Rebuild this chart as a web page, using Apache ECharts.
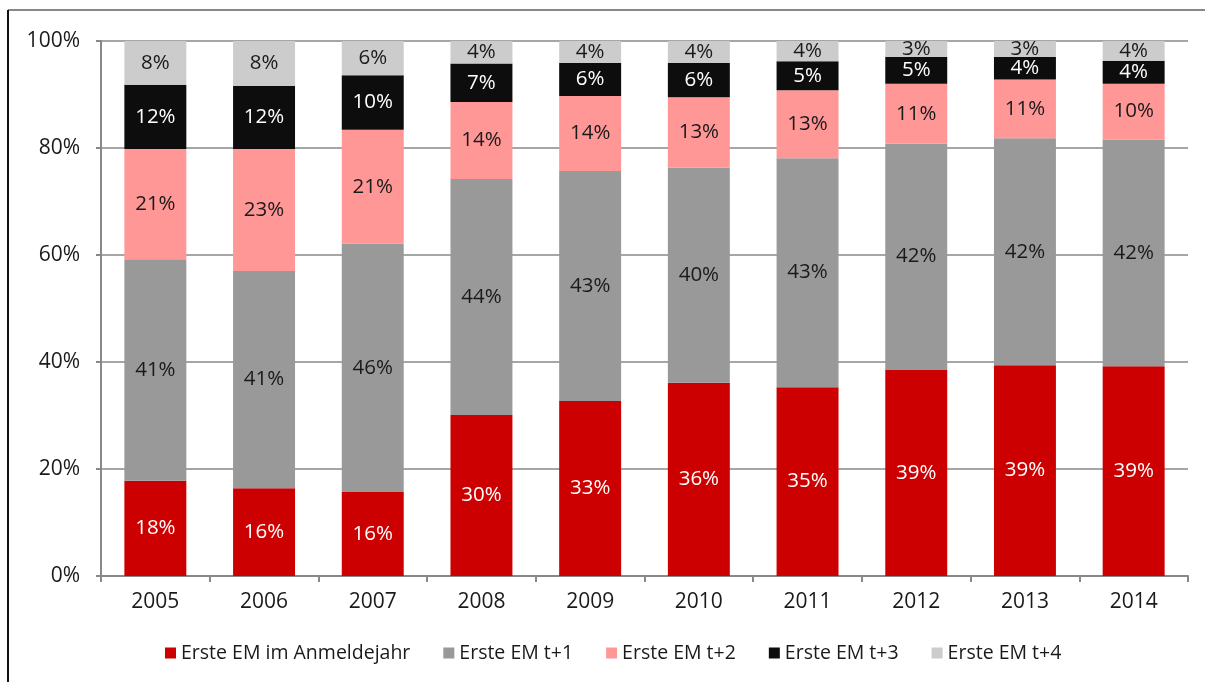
<!DOCTYPE html>
<html>

<head>
    <meta charset="utf-8" />
    <title>Erste EM</title>
    <script src="https://cdn.jsdelivr.net/npm/echarts@6/dist/echarts.min.js"></script>
    <style>
        html, body { margin: 0; padding: 0; background: #fff; }
    </style>
</head>

<body>
    <div id="main" style="width: 1205px;height:682px;"></div>

    <script type="text/javascript">
        var myChart = echarts.init(document.getElementById('main'));

        // years on the x axis
        var years = ['2005', '2006', '2007', '2008', '2009', '2010', '2011', '2012', '2013', '2014'];

        // share of first EM (%) by year
        var anmeldejahr = [17.8, 16.4, 15.7, 30.1, 32.7, 36.1, 35.3, 38.6, 39.4, 39.2];
        var t1 = [41.4, 40.6, 46.4, 44.1, 43.0, 40.2, 42.8, 42.2, 42.4, 42.4];
        var t2 = [20.6, 22.8, 21.3, 14.4, 14.0, 13.2, 12.7, 11.2, 11.0, 10.4];
        var t3 = [12.0, 11.8, 10.2, 7.2, 6.2, 6.4, 5.4, 5.0, 4.2, 4.3];
        var t4 = [8.2, 8.4, 6.4, 4.2, 4.1, 4.1, 3.8, 3.0, 3.0, 3.7];

        var seriesDefs = [
            { name: 'Erste EM im Anmeldejahr', data: anmeldejahr, color: '#cc0000', text: '#ffffff' },
            { name: 'Erste EM t+1', data: t1, color: '#999999', text: '#1a1a1a' },
            { name: 'Erste EM t+2', data: t2, color: '#ff9797', text: '#1a1a1a' },
            { name: 'Erste EM t+3', data: t3, color: '#0d0d0d', text: '#ffffff' },
            { name: 'Erste EM t+4', data: t4, color: '#cccccc', text: '#1a1a1a' }
        ];

        var font = '"Open Sans", "Noto Sans", sans-serif';

        var option = {
            animation: false,
            textStyle: { fontFamily: font },
            graphic: [
                {
                    type: 'line',
                    shape: { x1: 8, y1: 10, x2: 1205, y2: 10 },
                    style: { stroke: '#888888', lineWidth: 2 }
                },
                {
                    type: 'line',
                    shape: { x1: 8, y1: 10, x2: 8, y2: 682 },
                    style: { stroke: '#111111', lineWidth: 2 }
                }
            ],
            legend: {
                left: 160,
                top: 638,
                itemWidth: 11,
                itemHeight: 11,
                itemGap: 33,
                icon: 'rect',
                textStyle: { fontFamily: font, fontSize: 19.5, color: '#1a1a1a' },
                data: seriesDefs.map(function (s) { return s.name; })
            },
            grid: {
                left: 101,
                right: 17,
                top: 41,
                bottom: 106
            },
            xAxis: {
                type: 'category',
                data: years,
                axisLine: { lineStyle: { color: '#888888', width: 2 } },
                axisTick: { show: true, length: 6, lineStyle: { color: '#888888', width: 2 } },
                axisLabel: { margin: 16, fontSize: 21, color: '#1a1a1a', fontFamily: font }
            },
            yAxis: {
                type: 'value',
                min: 0,
                max: 100,
                interval: 20,
                axisLine: { show: true, lineStyle: { color: '#888888', width: 2 } },
                axisTick: { show: true, length: 5, lineStyle: { color: '#888888', width: 2 } },
                axisLabel: { margin: 21, fontSize: 21, color: '#1a1a1a', fontFamily: font, formatter: '{value}%' },
                splitLine: { lineStyle: { color: '#a6a6a6', width: 2 } }
            },
            series: seriesDefs.map(function (s) {
                return {
                    name: s.name,
                    type: 'bar',
                    stack: 'total',
                    barWidth: '57%',
                    data: s.data,
                    itemStyle: { color: s.color },
                    label: {
                        show: true,
                        position: 'inside',
                        fontSize: 20.5,
                        fontFamily: font,
                        color: s.text,
                        formatter: function (p) { return Math.round(p.value) + '%'; }
                    }
                };
            })
        };

        myChart.setOption(option);
    </script>
</body>

</html>
